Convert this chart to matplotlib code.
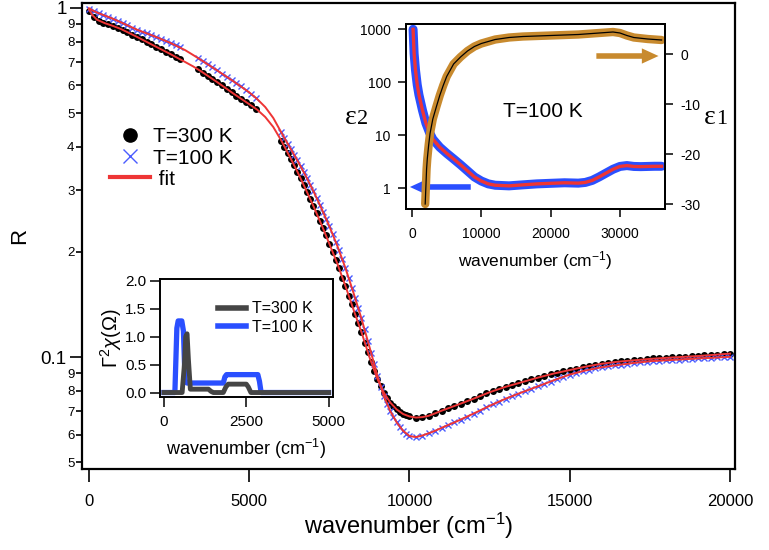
import numpy as np
import matplotlib
matplotlib.use('Agg')
import matplotlib.pyplot as plt
from matplotlib.ticker import LogLocator, FuncFormatter, NullFormatter, FixedLocator
from matplotlib.lines import Line2D

plt.rcParams['font.family'] = ['Liberation Sans', 'DejaVu Sans']
plt.rcParams['mathtext.fontset'] = 'custom'
plt.rcParams['mathtext.rm'] = 'Liberation Sans'
plt.rcParams['mathtext.it'] = 'Liberation Sans:italic'
plt.rcParams['axes.unicode_minus'] = False

# reflectivity data (both temperatures measured on the same wavenumber grid, with gaps)
wn_data = [0, 150, 300, 450, 600, 750, 900, 1050, 1200, 1350, 1500, 1650, 1800, 1950, 2100,
           2250, 2400, 2550, 2700, 2850,
           3400, 3550, 3700, 3850, 4000, 4150, 4300, 4450, 4600, 4750, 4900, 5050, 5200,
           6000, 6100, 6200, 6300, 6400, 6500, 6600, 6700, 6800, 6900, 7000, 7100, 7200, 7300,
           7400, 7500, 7600, 7700, 7800, 7900, 8000, 8100, 8200, 8300, 8400, 8500, 8600, 8700,
           8800, 8900, 9000, 9100, 9200, 9300, 9400, 9500, 9600, 9700, 9800, 9900, 10000,
           10200, 10400, 10600, 10800, 11000, 11200, 11400, 11600, 11800, 12000, 12200, 12400,
           12600, 12800, 13000, 13200, 13400, 13600, 13800, 14000, 14200, 14400, 14600, 14800,
           15000, 15200, 15400, 15600, 15800, 16000, 16200, 16400, 16600, 16800, 17000, 17200,
           17400, 17600, 17800, 18000, 18200, 18400, 18600, 18800, 19000, 19200, 19400, 19600,
           19800, 20000]
r_300 = [0.980, 0.945, 0.920, 0.908, 0.897, 0.888, 0.877, 0.866, 0.852, 0.839, 0.826, 0.813,
         0.799, 0.786, 0.773, 0.761, 0.749, 0.737, 0.724, 0.712,
         0.667, 0.653, 0.640, 0.627, 0.613, 0.600, 0.586, 0.573, 0.561, 0.549, 0.537, 0.526, 0.515,
         0.417, 0.400, 0.385, 0.369, 0.354, 0.340, 0.325, 0.311, 0.297, 0.284, 0.271, 0.258,
         0.246, 0.234, 0.223, 0.211, 0.200, 0.190, 0.180, 0.169, 0.160, 0.150, 0.142, 0.133,
         0.125, 0.118, 0.110, 0.1035, 0.0970, 0.0914, 0.0865, 0.0824, 0.0791, 0.0764, 0.0741,
         0.0723, 0.0708, 0.0697, 0.0687, 0.0681, 0.0676,
         0.0671, 0.0673, 0.0679, 0.0690, 0.0702, 0.0713, 0.0724, 0.0736, 0.0748, 0.0760, 0.0774,
         0.0787, 0.0800, 0.0811, 0.0822, 0.0832, 0.0841, 0.0853, 0.0863, 0.0873, 0.0883, 0.0893,
         0.0902, 0.0910, 0.0918, 0.0927, 0.0935, 0.0944, 0.0951, 0.0957, 0.0964, 0.0968, 0.0973,
         0.0977, 0.0979, 0.0984, 0.0986, 0.0991, 0.0993, 0.0995, 0.0998, 0.1000, 0.1002, 0.1005,
         0.1007, 0.1012, 0.1014, 0.1016, 0.1021, 0.1023]
r_100 = [0.995, 0.978, 0.965, 0.954, 0.943, 0.931, 0.918, 0.905, 0.891, 0.877, 0.866, 0.855,
         0.845, 0.835, 0.825, 0.815, 0.804, 0.793, 0.782, 0.771,
         0.718, 0.704, 0.690, 0.676, 0.662, 0.648, 0.635, 0.622, 0.609, 0.596, 0.582, 0.568, 0.553,
         0.440, 0.424, 0.408, 0.394, 0.379, 0.366, 0.352, 0.338, 0.325, 0.312, 0.299, 0.286,
         0.273, 0.261, 0.248, 0.237, 0.225, 0.213, 0.202, 0.191, 0.180, 0.169, 0.158, 0.148,
         0.138, 0.129, 0.120, 0.111, 0.103, 0.0953, 0.0883, 0.0822, 0.0773, 0.0733, 0.0700,
         0.0673, 0.0650, 0.0631, 0.0615, 0.0603, 0.0594,
         0.0590, 0.0596, 0.0605, 0.0615, 0.0627, 0.0638, 0.0650, 0.0662, 0.0675, 0.0689, 0.0703,
         0.0718, 0.0733, 0.0746, 0.0760, 0.0773, 0.0785, 0.0798, 0.0811, 0.0824, 0.0838, 0.0851,
         0.0865, 0.0879, 0.0891, 0.0902, 0.0912, 0.0920, 0.0929, 0.0935, 0.0942, 0.0946, 0.0951,
         0.0957, 0.0962, 0.0966, 0.0971, 0.0975, 0.0977, 0.0979, 0.0982, 0.0984, 0.0986, 0.0989,
         0.0991, 0.0993, 0.0995, 0.0998, 0.1000, 0.1002]

# fits
wn_fit = [0, 100, 250, 500, 750, 1000, 1500, 2000, 2500, 3000, 3250, 3500, 4000, 4500, 5000,
          5250, 5500, 5750, 6000, 6250, 6500, 6750, 7000, 7250, 7500, 7750, 8000, 8250, 8500,
          8750, 9000, 9200, 9400, 9600, 9800, 10000, 10200, 10400, 10600, 10800, 11000, 11500,
          12000, 12500, 13000, 13500, 14000, 14500, 15000, 15500, 16000, 16500, 17000, 17500,
          18000, 18500, 19000, 19500, 20000]
fit_300 = [0.990, 0.955, 0.925, 0.904, 0.888, 0.870, 0.826, 0.782, 0.741, 0.700, 0.680, 0.658,
           0.613, 0.569, 0.530, 0.511, 0.487, 0.456, 0.417, 0.377, 0.340, 0.304, 0.271, 0.240,
           0.211, 0.185, 0.160, 0.137, 0.118, 0.100, 0.0865, 0.0791, 0.0741, 0.0708, 0.0687,
           0.0676, 0.0671, 0.0673, 0.0679, 0.0690, 0.0702, 0.0730, 0.0760, 0.0793, 0.0822,
           0.0847, 0.0873, 0.0897, 0.0918, 0.0939, 0.0957, 0.0970, 0.0979, 0.0988, 0.0995,
           0.1001, 0.1007, 0.1015, 0.1023]
fit_100 = [0.998, 0.985, 0.970, 0.950, 0.931, 0.909, 0.866, 0.832, 0.797, 0.757, 0.733, 0.709,
           0.662, 0.617, 0.573, 0.548, 0.520, 0.484, 0.440, 0.401, 0.366, 0.332, 0.299, 0.267,
           0.237, 0.208, 0.180, 0.153, 0.129, 0.107, 0.0883, 0.0773, 0.0700, 0.0650, 0.0615,
           0.0594, 0.0590, 0.0596, 0.0605, 0.0615, 0.0627, 0.0656, 0.0689, 0.0725, 0.0760,
           0.0792, 0.0824, 0.0858, 0.0891, 0.0916, 0.0935, 0.0949, 0.0962, 0.0973, 0.0979,
           0.0985, 0.0991, 0.0996, 0.1002]

# inset: dielectric function at 100 K
wn_eps2 = [150, 300, 500, 750, 1000, 1500, 2000, 2500, 3000, 4000, 5000, 6000, 7000, 8000, 9000,
           10000, 11000, 12000, 14000, 16000, 18000, 20000, 22000, 24000, 25000, 26000, 27000,
           28000, 29000, 30000, 31000, 32000, 33000, 34000, 35000, 36000]
eps2 = [1000, 350, 170, 90, 58, 30, 17, 11.5, 8.5, 6.0, 4.6, 3.6, 2.8, 2.15, 1.65, 1.38, 1.22,
        1.15, 1.12, 1.17, 1.22, 1.25, 1.28, 1.26, 1.3, 1.42, 1.65, 1.95, 2.3, 2.6, 2.7, 2.6,
        2.58, 2.6, 2.62, 2.62]
wn_eps1 = [1900, 2000, 2100, 2200, 2400, 2600, 3000, 3500, 4000, 4500, 5000, 6000, 7000, 8000,
           9000, 10000, 12000, 14000, 16000, 18000, 20000, 22000, 24000, 26000, 28000, 29000,
           30000, 31000, 32000, 34000, 36000]
eps1 = [-30, -26.5, -23, -21, -18.2, -15.9, -13, -10.6, -8.3, -6.3, -4.5, -2.0, -0.6, 0.6, 1.5,
        2.1, 2.9, 3.3, 3.5, 3.6, 3.7, 3.8, 3.9, 4.1, 4.3, 4.4, 4.2, 3.7, 3.3, 3.0, 2.8]

# inset: bosonic function
wn_chi_300 = [0, 550, 620, 660, 700, 740, 800, 1350, 1430, 1500, 1800, 1880, 1950, 2500, 2560,
              2640, 5000]
chi_300 = [0, 0, 0.5, 1.0, 1.05, 0.6, 0.06, 0.06, 0.02, 0, 0, 0.1, 0.15, 0.15, 0.1, 0, 0]
wn_chi_100 = [0, 330, 390, 430, 540, 590, 640, 700, 1800, 1850, 1900, 2850, 2900, 2950, 5000]
chi_100 = [0, 0, 1.15, 1.28, 1.28, 1.1, 0.2, 0.17, 0.17, 0.28, 0.32, 0.32, 0.2, 0, 0]

BLACK = 'black'
BLUE_X = '#4a5cff'
BLUE = '#2a4fff'
RED = '#ee3535'
BROWN = '#c88a2e'
GRAY = '#454545'

W, H = 769, 550
fig = plt.figure(figsize=(W / 100, H / 100), dpi=100)


def frac(left, top, right, bottom):
    return [left / W, 1 - bottom / H, (right - left) / W, (bottom - top) / H]


# ---------------- main panel ----------------
ax = fig.add_axes(frac(82, 3, 735, 469))
ax.plot(wn_data, r_300, 'o', color=BLACK, ms=5, mew=0, zorder=2)
ax.plot(wn_data, r_100, 'x', color=BLUE_X, ms=4.8, mew=1.0, zorder=2)
ax.plot(wn_fit, fit_300, '-', color=RED, lw=1.4, zorder=3)
ax.plot(wn_fit, fit_100, '-', color=RED, lw=1.4, zorder=3)

ax.set_yscale('log')
ax.set_xlim(-218, 20156)
ax.set_ylim(0.0478, 1.033)
ax.set_xticks([0, 5000, 10000, 15000, 20000])
ax.yaxis.set_major_locator(FixedLocator([0.1, 1]))
ax.yaxis.set_minor_locator(LogLocator(base=10, subs=np.arange(2, 10)))
ax.yaxis.set_major_formatter(FuncFormatter(lambda v, p: '1' if v > 0.5 else '0.1'))


def minor_label(v, p):
    d = int(round(v / 10 ** np.floor(np.log10(v) + 1e-9)))
    return str(d)


ax.yaxis.set_minor_formatter(FuncFormatter(minor_label))
for s in ax.spines.values():
    s.set_linewidth(1.6)
ax.tick_params(axis='x', which='major', direction='out', length=9, width=1.2, pad=9, labelsize=12)
ax.tick_params(axis='y', which='major', direction='out', length=9, width=1.2, pad=2, labelsize=13.5)
ax.tick_params(axis='y', which='minor', direction='out', length=4.5, width=1.2, pad=1, labelsize=9.5)
ax.set_xlabel('wavenumber (cm$^{-1}$)', fontsize=17)
ax.xaxis.set_label_coords(0.5, -0.09)
ax.set_ylabel('R', fontsize=16)
ax.yaxis.set_label_coords(-0.08, 0.5)

handles = [Line2D([], [], ls='none', marker='o', ms=9.5, color=BLACK),
           Line2D([], [], ls='none', marker='x', ms=9.5, mew=1.0, color=BLUE_X),
           Line2D([], [], color=RED, lw=3)]
ax.legend(handles, ['T=300 K', 'T=100 K', ' fit'], loc='upper left',
          bbox_to_anchor=(0.043, 0.733), frameon=False, fontsize=15, borderpad=0,
          borderaxespad=0, handlelength=1.9, handletextpad=0.15, labelspacing=0.1)

# ---------------- upper right inset ----------------
ax2 = fig.add_axes(frac(406, 24, 665, 209))
ax2.plot(wn_eps2, eps2, '-', color=BLUE, lw=6.5, solid_capstyle='round', zorder=2)
ax2.plot(wn_eps2, eps2, '-', color=RED, lw=2.4, zorder=3)
ax2.set_yscale('log')
ax2.set_xlim(-870, 36500)
ax2.set_ylim(0.41, 1260)
ax2.set_xticks([0, 10000, 20000, 30000])
ax2.yaxis.set_major_locator(FixedLocator([1, 10, 100, 1000]))
ax2.yaxis.set_major_formatter(FuncFormatter(lambda v, p: '%d' % round(v)))
ax2.yaxis.set_minor_formatter(NullFormatter())
ax2.tick_params(axis='y', which='minor', length=0)
ax2.tick_params(which='major', direction='out', length=6, width=1.1, pad=5, labelsize=10)
ax2.tick_params(axis='x', pad=7)
ax2.set_xlabel('wavenumber (cm$^{-1}$)', fontsize=12.5, labelpad=6)
for s in ax2.spines.values():
    s.set_linewidth(1.4)

ax2r = ax2.twinx()
ax2r.plot(wn_eps1, eps1, '-', color=BROWN, lw=6, solid_capstyle='round', zorder=2)
ax2r.plot(wn_eps1, eps1, '-', color=BLACK, lw=0.9, zorder=3)
ax2r.set_ylim(-31, 6)
ax2r.set_yticks([0, -10, -20, -30])
ax2r.tick_params(which='major', direction='out', length=6, width=1.1, pad=5, labelsize=10)
for s in ax2r.spines.values():
    s.set_linewidth(1.4)

ax2.annotate('', xy=(0.015, 0.119), xytext=(0.25, 0.119), xycoords='axes fraction',
             arrowprops=dict(facecolor=BLUE, edgecolor='none', width=4, headwidth=11,
                             headlength=12, shrink=0))
ax2.annotate('', xy=(0.975, 0.827), xytext=(0.735, 0.827), xycoords='axes fraction',
             arrowprops=dict(facecolor=BROWN, edgecolor='none', width=4, headwidth=11,
                             headlength=12, shrink=0))
ax2.text(0.53, 0.525, 'T=100 K', transform=ax2.transAxes, ha='center', va='center', fontsize=15)
fig.text(351 / W, 1 - 117 / H, 'ε', family='Liberation Serif', fontsize=20, ha='center', va='center')
fig.text(363 / W, 1 - 120 / H, '2', family='Liberation Serif', fontsize=16, ha='center', va='center')
fig.text(710 / W, 1 - 117 / H, 'ε', family='Liberation Serif', fontsize=20, ha='center', va='center')
fig.text(722 / W, 1 - 120 / H, '1', family='Liberation Serif', fontsize=16, ha='center', va='center')

# ---------------- lower left inset ----------------
ax3 = fig.add_axes(frac(160, 279, 333, 397))
ax3.plot(wn_chi_300, chi_300, '-', color=GRAY, lw=3.5, zorder=3)
ax3.plot(wn_chi_100, chi_100, '-', color=BLUE, lw=3.8, zorder=2)
ax3.set_xlim(-122, 5134)
ax3.set_ylim(-0.08, 2.03)
ax3.set_xticks([0, 2500, 5000])
ax3.set_yticks([0, 0.5, 1.0, 1.5, 2.0])
ax3.yaxis.set_major_formatter(FuncFormatter(lambda v, p: '%.1f' % v))
ax3.tick_params(which='major', direction='out', length=7, width=1.1, pad=3, labelsize=11)
ax3.tick_params(axis='x', pad=6)
for s in ax3.spines.values():
    s.set_linewidth(1.4)
ax3.set_xlabel('wavenumber (cm$^{-1}$)', fontsize=13, labelpad=6)
ax3.set_ylabel(r'$\Gamma^{2}\chi(\Omega)$', fontsize=14.5, labelpad=1)
ax3.legend([Line2D([], [], color=GRAY, lw=4), Line2D([], [], color=BLUE, lw=4)],
           ['T=300 K', 'T=100 K'], loc='upper left', bbox_to_anchor=(0.335, 0.81),
           frameon=False, fontsize=11.5, borderpad=0, borderaxespad=0, handlelength=1.75,
           handletextpad=0.4, labelspacing=0.2)

fig.savefig('out.png', dpi=100)
